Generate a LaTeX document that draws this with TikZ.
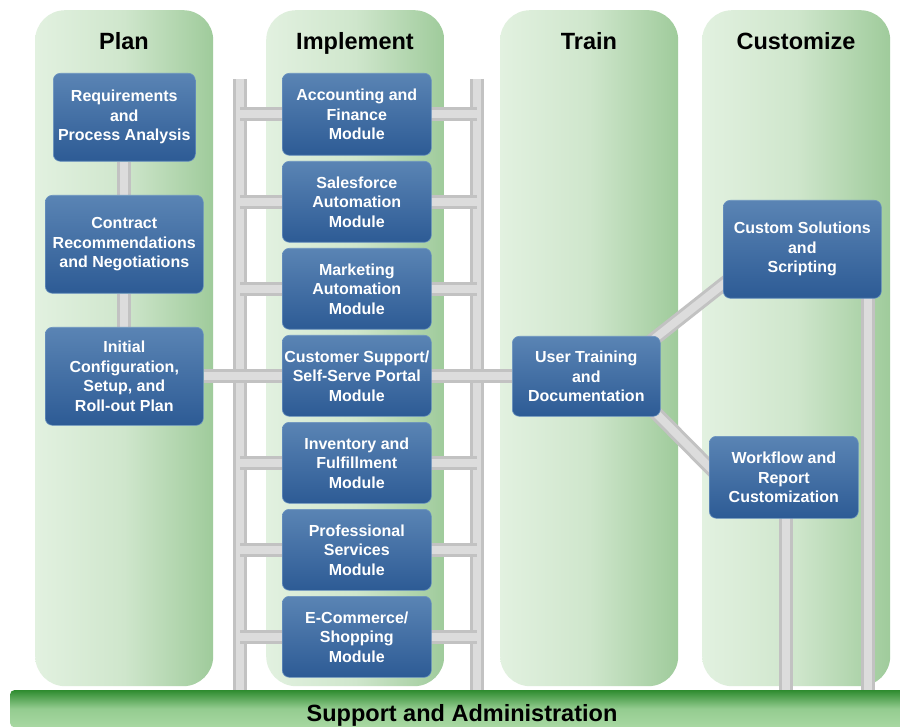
\documentclass[tikz,border=0pt]{standalone}
\usepackage{fontspec}
\setmainfont{Liberation Sans}
\usetikzlibrary{calc}
\definecolor{colL}{HTML}{E2F1E0}
\definecolor{colM}{HTML}{CFE6CC}
\definecolor{colR}{HTML}{9FCB9B}
\definecolor{boxT}{HTML}{5A84B4}
\definecolor{boxB}{HTML}{2D5B95}
\definecolor{boxE}{HTML}{6B93C0}
\definecolor{railC}{HTML}{C2C2C2}
\definecolor{railH}{HTML}{DCDCDC}
\definecolor{barT}{HTML}{2F8C30}
\definecolor{barM}{HTML}{94CC90}
\definecolor{barB}{HTML}{A8D8A2}
\pgfdeclarelayer{back}
\pgfdeclarelayer{mid}
\pgfsetlayers{back,mid,main}
\tikzset{
  colbox/.style={rounded corners=30pt, left color=colL, right color=colR, middle color=colM, minimum height=676pt, inner sep=0pt, anchor=north west},
  hdr/.style={font=\bfseries\fontsize{23.5}{26}\selectfont, text=black, anchor=base},
  bluebox/.style={rounded corners=7pt, top color=boxT, bottom color=boxB, draw=boxE, line width=0.6pt, text=white, align=center, inner sep=0pt, font=\bfseries\fontsize{16}{19.5}\selectfont, anchor=north west},
  rail/.style={line width=14pt, draw=railC, postaction={draw=railH, line width=8pt}},
}
\begin{document}
\begin{tikzpicture}[x=1pt,y=-1pt]
\useasboundingbox (0,0) rectangle (900,727);
% columns
\begin{pgfonlayer}{back}
\fill[white] (0,0) rectangle (900,727);
\node[colbox, minimum width=178pt] (cplan) at (35,10) {};
\node[colbox, minimum width=178pt] (cimpl) at (266,10) {};
\node[colbox, minimum width=178pt] (ctrain) at (500,10) {};
\node[colbox, minimum width=188pt] (ccust) at (702,10) {};
\end{pgfonlayer}
% headers
\node[hdr] (hplan) at (124,50) {Plan};
\node[hdr] (himpl) at (355,50) {Implement};
\node[hdr] (htrain) at (589,50) {Train};
\node[hdr] (hcust) at (796,50) {Customize};
% plan boxes
\node[bluebox, minimum width=142pt, minimum height=88pt] (req) at (53,73) {Requirements\\and\\Process Analysis};
\node[bluebox, minimum width=158pt, minimum height=98pt] (con) at (45,195) {Contract\\Recommendations\\and Negotiations};
\node[bluebox, minimum width=158pt, minimum height=98pt] (init) at (45,327) {Initial\\Configuration,\\Setup, and\\Roll-out Plan};
% implement boxes
\node[bluebox, minimum width=149pt, minimum height=82pt] (acc) at (282,73) {Accounting and\\Finance\\Module};
\node[bluebox, minimum width=149pt, minimum height=81pt] (sfa) at (282,161) {Salesforce\\Automation\\Module};
\node[bluebox, minimum width=149pt, minimum height=81pt] (mkt) at (282,248) {Marketing\\Automation\\Module};
\node[bluebox, minimum width=149pt, minimum height=81pt] (csp) at (282,335) {Customer Support/\\Self-Serve Portal\\Module};
\node[bluebox, minimum width=149pt, minimum height=81pt] (inv) at (282,422) {Inventory and\\Fulfillment\\Module};
\node[bluebox, minimum width=149pt, minimum height=81pt] (psm) at (282,509) {Professional\\Services\\Module};
\node[bluebox, minimum width=149pt, minimum height=81pt] (ecm) at (282,596) {E-Commerce/\\Shopping\\Module};
% train
\node[bluebox, minimum width=148pt, minimum height=80pt] (ut) at (512,336) {User Training\\and\\Documentation};
% customize
\node[bluebox, minimum width=158pt, minimum height=98pt] (cs) at (723,200) {Custom Solutions\\and\\Scripting};
\node[bluebox, minimum width=149pt, minimum height=82pt] (wf) at (709,436) {Workflow and\\Report\\Customization};
% connector coordinates
\coordinate (lrt) at (240,79);
\coordinate (lrb) at (240,692);
\coordinate (rrt) at (477,79);
\coordinate (rrb) at (477,692);
\coordinate (d1a) at (640,350);
\coordinate (d1b) at (740,271);
\coordinate (d2a) at (640,397);
\coordinate (d2b) at (730,488);
\coordinate (csd) at (868,692);
\coordinate (wfd) at (786,692);
\begin{pgfonlayer}{mid}
\draw[rail] (req) -- (con);
\draw[rail] (con) -- (init);
\draw[rail] (lrt) -- (lrb);
\draw[rail] (rrt) -- (rrb);
\foreach \b in {acc,sfa,mkt,inv,psm,ecm}{
  \draw[rail] (lrt |- \b.center) -- (rrt |- \b.center);
}
\draw[rail] (init) -- (ut);
\draw[rail] (d1a) -- (d1b);
\draw[rail] (d2a) -- (d2b);
\draw[rail] (csd |- cs.center) -- (csd);
\draw[rail] (wfd |- wf.center) -- (wfd);
\end{pgfonlayer}
% bottom bar
\node[rounded corners=4pt, top color=barT, bottom color=barB, middle color=barM, minimum width=900pt, minimum height=37pt, inner sep=0pt, anchor=north west] (sup) at (10,690) {};
\node[hdr] (suplab) at (462,721) {Support and Administration};
\end{tikzpicture}
\end{document}
